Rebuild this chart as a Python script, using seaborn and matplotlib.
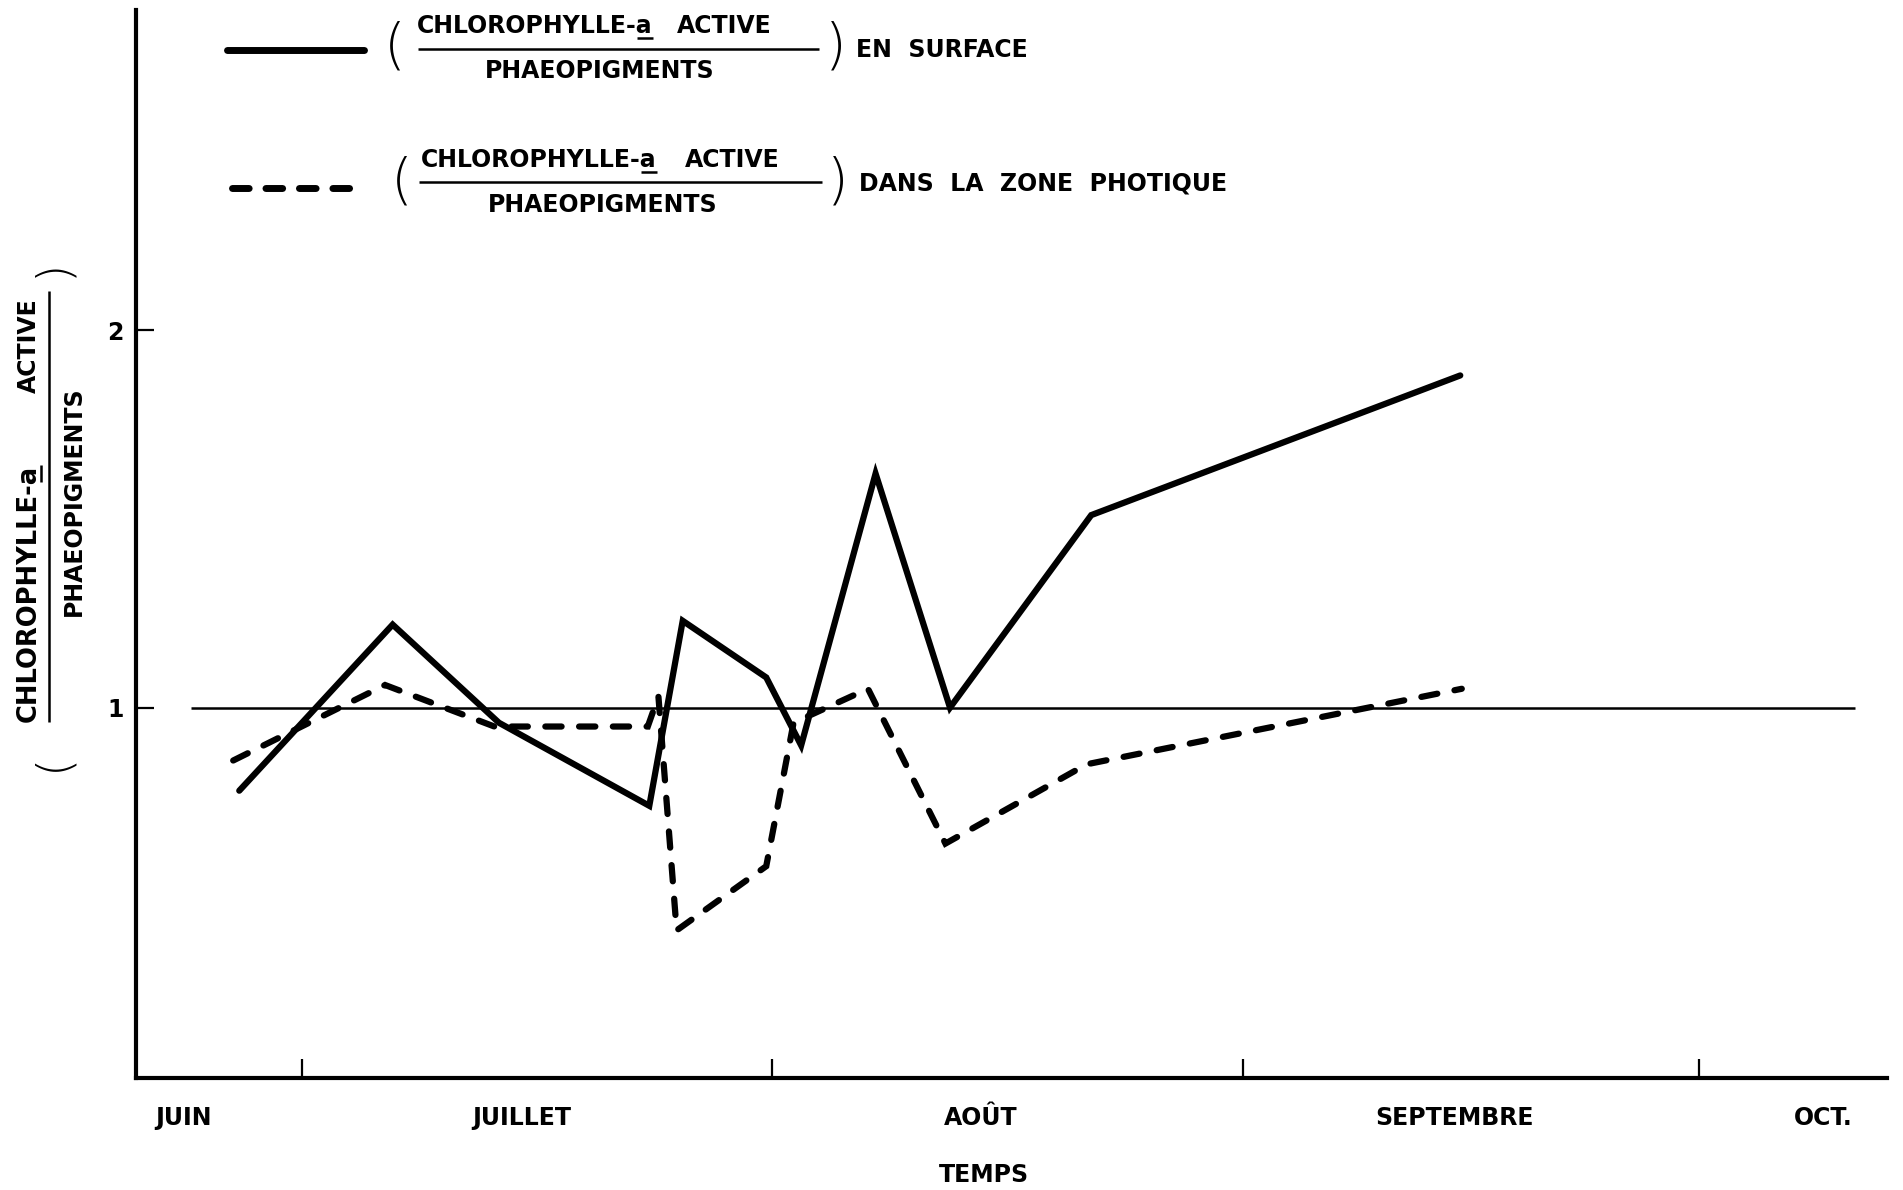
import matplotlib
matplotlib.use("Agg")
import matplotlib.pyplot as plt
from matplotlib.lines import Line2D
from matplotlib.transforms import Affine2D
import pandas as pd
import seaborn as sns

# Day numbers counted from 1 June
surface_day = [25.9, 36.0, 43.0, 52.9, 55.1, 60.6, 62.9, 67.8, 72.7, 82.0, 106.3]
surface_ratio = [0.78, 1.22, 0.96, 0.74, 1.23, 1.08, 0.90, 1.62, 1.00, 1.51, 1.88]

photic_day = [25.5, 35.5, 42.7, 52.8, 53.5, 54.7, 60.6, 62.4, 67.3, 72.4, 81.7, 106.4]
photic_ratio = [0.86, 1.06, 0.95, 0.95, 1.03, 0.41, 0.58, 0.96, 1.05, 0.64, 0.85, 1.05]

month_starts = [30, 61, 92, 122]
month_label_days = [22.2, 44.5, 74.7, 105.9, 130.2]
month_labels = ["JUIN", "JUILLET", "AOÛT", "SEPTEMBRE", "OCT."]
ytick_values = [1, 2]
ytick_labels = ["1", "2"]

W, H = 1903, 1190
FS = 17
BOLD = dict(fontsize=FS, fontweight="bold", family=["DejaVu Sans"], color="black")
BOLD_Y = dict(BOLD, fontsize=18.5)
PAREN = dict(fontweight=200, family=["DejaVu Sans"], color="black")

sns.set_theme(style="white")
plt.rcParams["font.family"] = ["DejaVu Sans"]

fig = plt.figure(figsize=(W / 100, H / 100), dpi=100)
fig.patch.set_facecolor("white")

ax = fig.add_axes([136 / W, 1 - 1078 / H, (1887 - 136) / W, (1078 - 10) / H])
ax.set_facecolor("white")
ax.set_xlim(19.1, 134.4)
ax.set_ylim(0.019, 2.848)

surface = pd.DataFrame({"jour": surface_day, "rapport": surface_ratio})
photic = pd.DataFrame({"jour": photic_day, "rapport": photic_ratio})

# reference level: ratio = 1
ax.plot([22.7, 132.3], [1, 1], color="black", lw=1.8, solid_capstyle="butt", zorder=1)

sns.lineplot(data=surface, x="jour", y="rapport", ax=ax, color="black", lw=4.5,
             sort=False, estimator=None, solid_joinstyle="miter",
             solid_capstyle="round", zorder=3)
sns.lineplot(data=photic, x="jour", y="rapport", ax=ax, color="black", lw=4.5,
             sort=False, estimator=None, linestyle=(0, (2.6, 2.8)),
             dash_capstyle="round", dash_joinstyle="miter", zorder=3)

for side in ("top", "right"):
    ax.spines[side].set_visible(False)
for side in ("left", "bottom"):
    ax.spines[side].set_linewidth(3)
    ax.spines[side].set_color("black")

ax.set_xticks(month_starts)
ax.set_xticklabels([])
ax.set_xticks(month_label_days, minor=True)
ax.set_xticklabels(month_labels, minor=True, **BOLD)
ax.tick_params(axis="x", which="major", direction="in", length=14, width=1.6,
               color="black", bottom=True)
ax.tick_params(axis="x", which="minor", length=0, pad=20, bottom=True)

ax.set_yticks(ytick_values)
ax.set_yticklabels(ytick_labels, **BOLD)
ax.tick_params(axis="y", which="major", direction="in", length=13, width=1.6,
               color="black", pad=9, left=True)
ax.set_xlabel("")
ax.set_ylabel("")

# pixel coordinates measured from the top-left corner of the figure
pix = Affine2D().scale(1, -1).translate(0, H)
renderer = fig.canvas.get_renderer()


def text_width(s, **kw):
    t = fig.text(0, 0, s, **kw)
    w = t.get_window_extent(renderer).width
    t.remove()
    return w


def line_px(xs, ys, **kw):
    fig.add_artist(Line2D(xs, ys, transform=pix, color="black", **kw))


def ratio_block(x0, x_end_active, base_num, bar_x0, bar_x1, bar_y, den_cx,
                base_den, lp_x, rp_x, par_y):
    fig.text(x0, base_num, "CHLOROPHYLLE-a", transform=pix, ha="left",
             va="baseline", **BOLD)
    w_pre = text_width("CHLOROPHYLLE-", **BOLD)
    w_all = text_width("CHLOROPHYLLE-a", **BOLD)
    line_px([x0 + w_pre, x0 + w_all], [base_num + 5, base_num + 5], lw=1.8,
            solid_capstyle="butt")
    fig.text(x_end_active, base_num, "ACTIVE", transform=pix, ha="right",
             va="baseline", **BOLD)
    line_px([bar_x0, bar_x1], [bar_y, bar_y], lw=1.8, solid_capstyle="butt")
    fig.text(den_cx, base_den, "PHAEOPIGMENTS", transform=pix, ha="center",
             va="baseline", **BOLD)
    fig.text(lp_x, par_y, "(", transform=pix, ha="center", va="center",
             fontsize=40, **PAREN)
    fig.text(rp_x, par_y, ")", transform=pix, ha="center", va="center",
             fontsize=40, **PAREN)


# legend, surface series
line_px([226.5, 363.5], [50, 50], lw=5, solid_capstyle="round")
ratio_block(417, 772, 33, 418, 819, 49, 600, 78, 395, 836, 48)
fig.text(856, 57, "EN  SURFACE", transform=pix, ha="left", va="baseline", **BOLD)

# legend, photic zone series
line_px([231.5, 349.5], [188, 188], lw=5, dash_capstyle="round",
        linestyle=(0, (2.4, 2.42)))
ratio_block(421, 780, 167, 419, 822, 182, 603, 212, 402, 838, 183)
fig.text(859, 191, "DANS  LA  ZONE  PHOTIQUE", transform=pix, ha="left",
         va="baseline", **BOLD)

# vertical axis title, written as a fraction
y0 = 722
fig.text(36, y0, "CHLOROPHYLLE-a", transform=pix, rotation=90,
         rotation_mode="anchor", ha="left", va="baseline", **BOLD_Y)
w_pre = text_width("CHLOROPHYLLE-", **BOLD_Y)
w_all = text_width("CHLOROPHYLLE-a", **BOLD_Y)
line_px([41, 41], [y0 - w_pre, y0 - w_all], lw=1.8, solid_capstyle="butt")
fig.text(36, 298, "ACTIVE", transform=pix, rotation=90, rotation_mode="anchor",
         ha="right", va="baseline", **BOLD)
line_px([49, 49], [291, 722], lw=1.8, solid_capstyle="butt")
fig.text(81, 501, "PHAEOPIGMENTS", transform=pix, rotation=90,
         rotation_mode="anchor", ha="center", va="baseline", **BOLD)
fig.text(52, 268, ")", transform=pix, rotation=90, rotation_mode="anchor",
         ha="center", va="center", fontsize=34, **PAREN)
fig.text(52, 762, "(", transform=pix, rotation=90, rotation_mode="anchor",
         ha="center", va="center", fontsize=34, **PAREN)

# horizontal axis title
fig.text(984, 1175, "TEMPS", transform=pix, ha="center", va="center", **BOLD)

fig.savefig("out.png", dpi=100, facecolor="white")
